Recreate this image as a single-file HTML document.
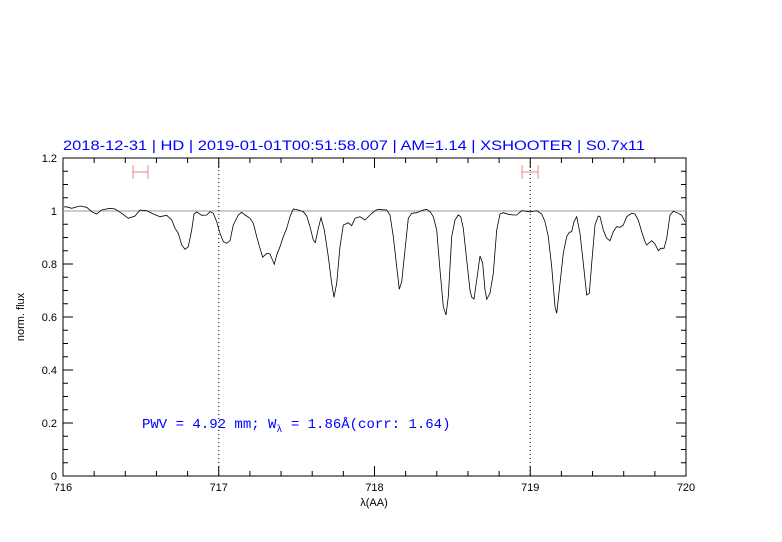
<!DOCTYPE html>
<html><head><meta charset="utf-8"><style>
body{margin:0;background:#fff;}
svg{display:block;font-family:"Liberation Sans","DejaVu Sans",sans-serif;}
</style></head><body>
<svg id="s" width="782" height="542" xmlns="http://www.w3.org/2000/svg">
<rect width="782" height="542" fill="#fff"/>
<text x="63" y="150" fill="#0000ff" font-size="13.5" textLength="582" lengthAdjust="spacingAndGlyphs">2018-12-31 | HD | 2019-01-01T00:51:58.007 | AM=1.14 | XSHOOTER | S0.7x11</text>
<g id="ax" stroke="#000" stroke-width="1" fill="none"></g>
<line x1="63" y1="211" x2="686" y2="211" stroke="#999" stroke-width="1"/>
<line x1="218.75" y1="158" x2="218.75" y2="476" stroke="#000" stroke-dasharray="1,3"/>
<line x1="530.25" y1="158" x2="530.25" y2="476" stroke="#000" stroke-dasharray="1,3"/>
<g stroke="#f08080" stroke-width="1">
<line x1="133" y1="172" x2="148" y2="172"/><line x1="133" y1="165" x2="133" y2="179"/><line x1="148" y1="165" x2="148" y2="179"/>
<line x1="522" y1="172" x2="538" y2="172"/><line x1="522" y1="165" x2="522" y2="179"/><line x1="538" y1="165" x2="538" y2="179"/>
</g>
<path id="sp" fill="none" stroke="#000" stroke-width="0.8"/>
<g font-size="11" fill="#000" text-anchor="middle">
<text x="63" y="491">716</text><text x="218.75" y="491">717</text><text x="374.5" y="491">718</text><text x="530.25" y="491">719</text><text x="686" y="491">720</text>
<text x="374" y="506">λ(AA)</text>
</g>
<g font-size="11" fill="#000" text-anchor="end">
<text x="57" y="480">0</text><text x="57" y="427">0.2</text><text x="57" y="374">0.4</text><text x="57" y="321">0.6</text><text x="57" y="268">0.8</text><text x="57" y="215">1</text><text x="57" y="162">1.2</text>
</g>
<text transform="translate(24,317) rotate(-90)" font-size="11" text-anchor="middle" fill="#000">norm. flux</text>
<text x="142" y="428" font-size="14" fill="#0000ff" font-family="Liberation Mono, monospace" xml:space="preserve">PWV = 4.92 mm; W<tspan font-size="10" dy="4">λ</tspan><tspan dy="-4"> = 1.86Å(corr: 1.64)</tspan></text>
</svg>
<script>
var ax=document.getElementById('ax'),h='';
h+='<rect x="63" y="158" width="623" height="318"/>';
for(var i=0;i<=20;i++){var x=63+i*31.15,L=(i%5==0)?10:5;h+='<line x1="'+x+'" y1="476" x2="'+x+'" y2="'+(476-L)+'"/><line x1="'+x+'" y1="158" x2="'+x+'" y2="'+(158+L)+'"/>';}
for(var j=0;j<=24;j++){var y=476-j*13.25,L=(j%4==0)?10:5;h+='<line x1="63" y1="'+y+'" x2="'+(63+L)+'" y2="'+y+'"/><line x1="686" y1="'+y+'" x2="'+(686-L)+'" y2="'+y+'"/>';}
ax.innerHTML=h;
var a=[18,170,35,175,60,168,80,172,95,185,110,192,125,180,150,175,165,177,185,190,205,205,225,198,240,180,260,182,280,192,300,200,320,196,335,210,345,235,355,250,365,285,375,298,385,290,395,240,402,192,410,186,425,196,440,195,450,185,460,190,470,215,480,250,490,275,500,280,510,272,520,225,535,195,545,187,555,195,570,205,580,220,590,260,600,295,608,322,620,310,630,312,643,343,650,315,660,290,670,260,680,235,690,200,700,177,715,180,730,185,740,198,750,230,760,270,766,278,775,235,783,203,793,240,805,320,815,400,822,442,830,400,840,290,850,225,865,218,875,227,885,205,900,200,915,210,930,195,945,182,955,178];
var b=[0,188,10,182,20,180,35,179,50,180,60,195,70,260,80,350,88,418,95,395,105,300,115,205,125,190,140,188,160,180,170,178,180,185,190,200,200,240,210,360,220,470,228,495,235,440,245,260,255,210,265,195,272,200,280,235,290,330,300,420,305,442,312,447,320,390,330,318,338,340,345,420,350,448,360,430,370,370,380,240,390,192,400,188,415,193,430,195,440,195,455,182,470,184,480,186,500,182,515,192,525,215,535,260,545,350,555,470,560,490,570,400,580,310,590,260,598,247,605,245,612,215,620,200,630,250,640,340,650,435,658,430,665,340,675,225,685,198,690,200,700,240,710,265,720,272,730,245,740,230,750,232,760,225,770,200,785,190,795,192,805,210,815,245,825,275,830,285,845,272,855,282,865,302,872,295,882,295,890,265,900,195,910,184,925,190,935,196,945,215];
var pts=[];
for(var k=0;k<a.length;k+=2)pts.push([60+a[k]/3,150+a[k+1]/3]);
for(var k=0;k<b.length;k+=2){var x=370+b[k]/3;if(x>pts[pts.length-1][0])pts.push([x,150+b[k+1]/3]);}
var d='M64,207 ';pts.forEach(function(p){d+='L'+p[0].toFixed(1)+','+p[1].toFixed(1)+' ';});
document.getElementById('sp').setAttribute('d',d);
</script>
</body></html>
